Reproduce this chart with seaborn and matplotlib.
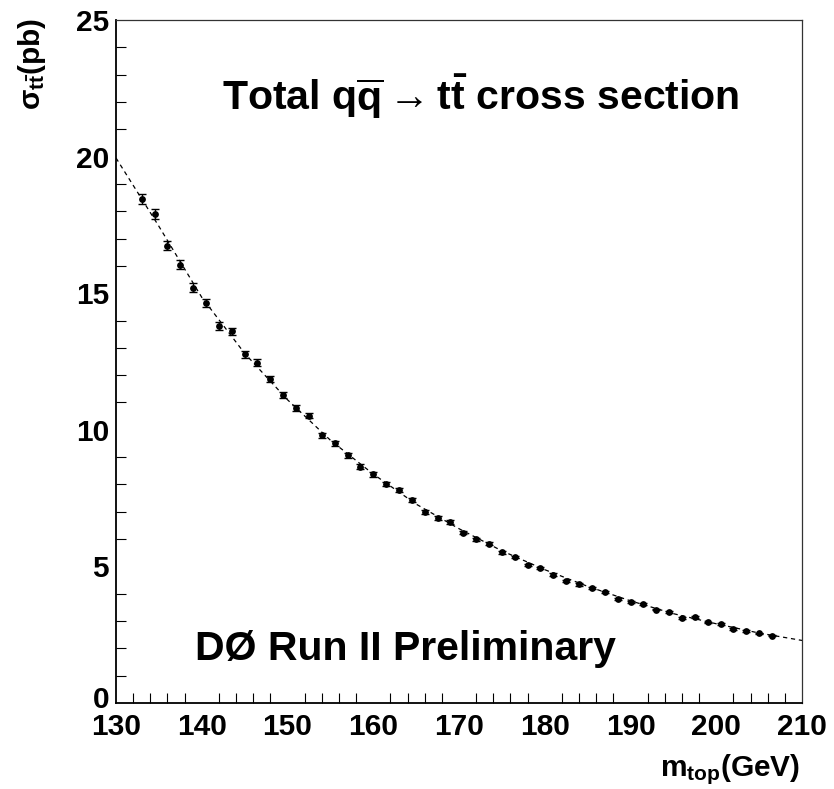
import matplotlib
matplotlib.use("Agg")
import matplotlib.pyplot as plt
import matplotlib.transforms as mtransforms
from matplotlib.ticker import MultipleLocator
import seaborn as sns
import pandas as pd

# Generated top mass points and total qq -> tt cross section (pb)
m_top = [133.0, 134.5, 136.0, 137.5, 139.0, 140.5, 142.0, 143.5, 145.0, 146.5,
         148.0, 149.5, 151.0, 152.5, 154.0, 155.5, 157.0, 158.5, 160.0, 161.5,
         163.0, 164.5, 166.0, 167.5, 169.0, 170.5, 172.0, 173.5, 175.0, 176.5,
         178.0, 179.5, 181.0, 182.5, 184.0, 185.5, 187.0, 188.5, 190.0, 191.5,
         193.0, 194.5, 196.0, 197.5, 199.0, 200.5, 202.0, 203.5, 205.0, 206.5]
sigma = [18.45, 17.89, 16.74, 16.04, 15.20, 14.64, 13.81, 13.60, 12.76, 12.46,
         11.86, 11.27, 10.79, 10.52, 9.80, 9.51, 9.07, 8.65, 8.37, 8.01,
         7.80, 7.42, 7.00, 6.76, 6.63, 6.23, 5.99, 5.83, 5.52, 5.34,
         5.05, 4.94, 4.70, 4.47, 4.34, 4.22, 4.06, 3.80, 3.71, 3.61,
         3.42, 3.32, 3.11, 3.14, 2.95, 2.88, 2.71, 2.64, 2.55, 2.46]
sigma_err = [0.18, 0.18, 0.17, 0.16, 0.16, 0.15, 0.14, 0.14, 0.13, 0.13,
             0.12, 0.11, 0.11, 0.10, 0.10, 0.09, 0.09, 0.09, 0.08, 0.08,
             0.08, 0.07, 0.07, 0.07, 0.07, 0.06, 0.06, 0.06, 0.06, 0.05,
             0.05, 0.05, 0.05, 0.05, 0.04, 0.04, 0.04, 0.04, 0.04, 0.04,
             0.03, 0.03, 0.03, 0.03, 0.03, 0.03, 0.03, 0.03, 0.03, 0.02]

# Fitted parametrisation, sampled along the mass range
fit_m = [130, 135, 140, 145, 150, 155, 160, 165, 170, 175, 180, 185, 190,
         195, 200, 205, 210]
fit_sigma = [19.95, 17.45, 14.85, 12.80, 11.10, 9.62, 8.38, 7.28, 6.38, 5.57,
             4.88, 4.27, 3.74, 3.27, 2.90, 2.56, 2.29]

x_ticks = [130, 140, 150, 160, 170, 180, 190, 200, 210]
y_ticks = [0, 5, 10, 15, 20, 25]

sns.set_theme(style="white")
plt.rcParams["font.family"] = ["Liberation Sans", "DejaVu Sans"]
plt.rcParams["font.weight"] = "bold"
plt.rcParams["text.color"] = "black"
plt.rcParams["axes.labelcolor"] = "black"
plt.rcParams["xtick.color"] = "black"
plt.rcParams["ytick.color"] = "black"
plt.rcParams["mathtext.fontset"] = "custom"
plt.rcParams["mathtext.rm"] = "Liberation Sans:bold"
plt.rcParams["mathtext.it"] = "Liberation Sans:bold"
plt.rcParams["mathtext.bf"] = "Liberation Sans:bold"
plt.rcParams["mathtext.fallback"] = "stix"

points = pd.DataFrame({"m": m_top, "sigma": sigma, "err": sigma_err})
fit = pd.DataFrame({"m": fit_m, "sigma": fit_sigma})

fig = plt.figure(figsize=(8.34, 7.89), dpi=100)
ax = fig.add_axes([116 / 834, 1 - 703 / 789, 686 / 834, 683 / 789])

sns.lineplot(data=fit, x="m", y="sigma", ax=ax, color="black",
             linewidth=0.9, dashes=False, linestyle=(0, (3.4, 3.0)),
             sort=False, zorder=2)
ax.errorbar(points["m"], points["sigma"], yerr=points["err"], fmt="none",
            ecolor="black", elinewidth=1.0, capsize=2.6, capthick=1.0,
            zorder=3)
sns.scatterplot(data=points, x="m", y="sigma", ax=ax, color="black",
                s=24, edgecolor="black", linewidth=0, zorder=4)

ax.set_xlim(130, 210)
ax.set_ylim(0, 25)
ax.set_xticks(x_ticks)
ax.set_yticks(y_ticks)
ax.xaxis.set_minor_locator(MultipleLocator(2))
ax.yaxis.set_minor_locator(MultipleLocator(1))
ax.tick_params(which="major", direction="in", length=14.5, width=0.8,
               labelsize=21.5, color="black", labelcolor="black",
               top=False, right=False)
ax.tick_params(which="minor", direction="in", length=7.2, width=0.8,
               color="black", top=False, right=False, bottom=True, left=True)
ax.tick_params(axis="x", which="major", pad=7)
ax.tick_params(axis="y", which="major", pad=5)
for lab in ax.get_xticklabels() + ax.get_yticklabels():
    lab.set_fontweight("bold")

# lift the "0" on the y axis a little so it sits clear of the "130"
fig.canvas.draw()
zero_label = ax.get_yticklabels()[0]
zero_label.set_transform(zero_label.get_transform() +
                         mtransforms.ScaledTranslation(0, 4 / 72,
                                                       fig.dpi_scale_trans))

for side in ["left", "bottom"]:
    ax.spines[side].set_color("black")
    ax.spines[side].set_linewidth(1.3)
for side in ["top", "right"]:
    ax.spines[side].set_color("#333333")
    ax.spines[side].set_linewidth(0.9)

ax.set_xlabel("")
ax.set_ylabel("")

ax.text(0.1545, 0.867,
        r"Total $q\overline{q}\rightarrow t\bar{t}$ cross section",
        transform=ax.transAxes, fontsize=29.5, fontweight="bold",
        color="black", ha="left", va="baseline")
ax.text(0.115, 0.063, "DØ Run II Preliminary", transform=ax.transAxes,
        fontsize=29.5, fontweight="bold", color="black",
        ha="left", va="baseline")

fig.text(32 / 834, 1 - 18 / 789, r"$\sigma_{t\bar{t}}$(pb)", rotation=90,
         fontsize=21.5, fontweight="bold", color="black",
         ha="center", va="top")
fig.text(800 / 834, 1 - 776 / 789, r"m$_{top}$(GeV)", fontsize=21.5,
         fontweight="bold", color="black", ha="right", va="baseline")

fig.savefig("out.png", dpi=100, facecolor="white")
